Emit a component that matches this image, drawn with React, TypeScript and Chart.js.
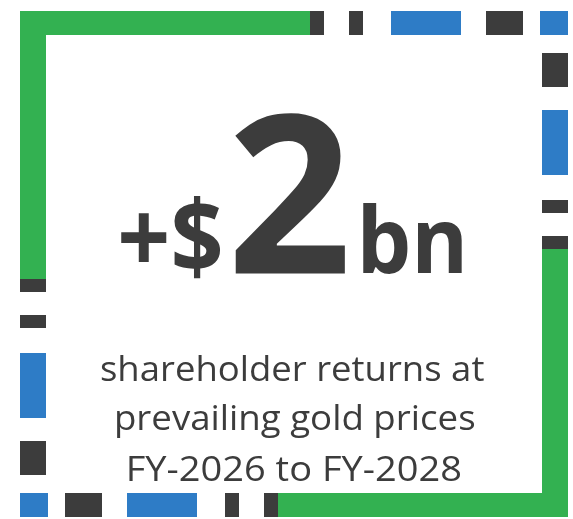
import React, { useEffect, useRef } from "react";
import { Chart, registerables } from "chart.js";

Chart.register(...registerables);

// ---- data: border segments per side (start, end along the side) ----
const topStarts = [20, 310, 349, 391, 486, 540];
const topEnds = [310, 324, 363, 461, 523, 568];
const topKinds = ["green", "dark", "dark", "blue", "dark", "blue"];

const rightStarts = [53, 110, 200, 236, 249];
const rightEnds = [87, 175, 213, 249, 517];
const rightKinds = ["dark", "blue", "dark", "dark", "green"];

const bottomStarts = [20, 65, 127, 225, 264, 278];
const bottomEnds = [48, 102, 197, 239, 278, 568];
const bottomKinds = ["blue", "dark", "blue", "dark", "dark", "green"];

const leftStarts = [11, 279, 315, 353, 441];
const leftEnds = [279, 292, 328, 418, 475];
const leftKinds = ["green", "dark", "dark", "blue", "dark"];

// ---- text ----
const headlinePieces = ["+$", "2", "bn"];
const subtitleLines = [
  "shareholder returns at",
  "prevailing gold prices",
  "FY-2026 to FY-2028",
];

// ---- styling / layout ----
const COLORS: Record<string, string> = {
  green: "#33B151",
  blue: "#2E7CC6",
  dark: "#3C3C3C",
};
const TEXT_COLOR = "#3C3C3C";
const W = 573;
const H = 519;
const TOP_BAND = { c: 23, w: 24 };
const BOTTOM_BAND = { c: 505, w: 24 };
const LEFT_BAND = { c: 33, w: 26 };
const RIGHT_BAND = { c: 555, w: 26 };
const FAMILY = '"Open Sans", "Noto Sans", sans-serif';

// ink boxes for headline pieces: [left, right, top, baseline]
const headlineBoxes = [
  [121, 220, 195, 273],
  [235, 345, 112, 273],
  [363, 462, 202, 273],
];
// subtitle: [left, right, baseline]
const subtitleBoxes = [
  [101, 484, 381],
  [116, 474, 430],
  [129, 461, 481],
];
const SUB_CAP = 25;

function seg(x1: number, y1: number, x2: number, y2: number, kind: string, width: number) {
  return {
    data: [
      { x: x1, y: y1 },
      { x: x2, y: y2 },
    ],
    showLine: true,
    borderColor: COLORS[kind],
    backgroundColor: COLORS[kind],
    borderWidth: width,
    borderCapStyle: "butt" as const,
    pointRadius: 0,
    pointHoverRadius: 0,
    clip: false as const,
  };
}

function buildDatasets() {
  const ds: any[] = [];
  leftStarts.forEach((s, i) => ds.push(seg(LEFT_BAND.c, s, LEFT_BAND.c, leftEnds[i], leftKinds[i], LEFT_BAND.w)));
  rightStarts.forEach((s, i) => ds.push(seg(RIGHT_BAND.c, s, RIGHT_BAND.c, rightEnds[i], rightKinds[i], RIGHT_BAND.w)));
  topStarts.forEach((s, i) => ds.push(seg(s, TOP_BAND.c, topEnds[i], TOP_BAND.c, topKinds[i], TOP_BAND.w)));
  bottomStarts.forEach((s, i) => ds.push(seg(s, BOTTOM_BAND.c, bottomEnds[i], BOTTOM_BAND.c, bottomKinds[i], BOTTOM_BAND.w)));
  return ds;
}

function drawFitted(
  ctx: CanvasRenderingContext2D,
  text: string,
  weight: string,
  left: number,
  right: number,
  baseline: number,
  size: number
) {
  ctx.font = `${weight} ${size}px ${FAMILY}`;
  const m = ctx.measureText(text);
  const inkW = m.actualBoundingBoxLeft + m.actualBoundingBoxRight;
  const sx = (right - left) / inkW;
  ctx.save();
  ctx.translate(left, baseline);
  ctx.scale(sx, 1);
  ctx.textAlign = "left";
  ctx.textBaseline = "alphabetic";
  ctx.fillText(text, m.actualBoundingBoxLeft, 0);
  ctx.restore();
}

function sizeForAscent(ctx: CanvasRenderingContext2D, text: string, weight: string, ascent: number) {
  ctx.font = `${weight} 100px ${FAMILY}`;
  const m = ctx.measureText(text);
  return (100 * ascent) / m.actualBoundingBoxAscent;
}

const textPlugin = {
  id: "infoText",
  afterDraw(chart: any) {
    const ctx: CanvasRenderingContext2D = chart.ctx;
    ctx.save();
    ctx.fillStyle = TEXT_COLOR;
    headlinePieces.forEach((t, i) => {
      const [l, r, top, base] = headlineBoxes[i];
      const size = sizeForAscent(ctx, t, "bold", base - top);
      drawFitted(ctx, t, "bold", l, r, base, size);
    });
    const subSize = sizeForAscent(ctx, "FY", "normal", SUB_CAP);
    subtitleLines.forEach((t, i) => {
      const [l, r, base] = subtitleBoxes[i];
      drawFitted(ctx, t, "normal", l, r, base, subSize);
    });
    ctx.restore();
  },
};

export default function App() {
  const ref = useRef<HTMLCanvasElement | null>(null);
  useEffect(() => {
    if (!ref.current) return;
    const chart = new Chart(ref.current, {
      type: "scatter",
      data: { datasets: buildDatasets() },
      options: {
        responsive: false,
        maintainAspectRatio: false,
        animation: false,
        devicePixelRatio: 1,
        layout: { padding: 0 },
        events: [],
        plugins: {
          legend: { display: false },
          tooltip: { enabled: false },
          title: { display: false },
        },
        scales: {
          x: { type: "linear", min: 0, max: W, display: false },
          y: { type: "linear", min: 0, max: H, reverse: true, display: false },
        },
      },
      plugins: [textPlugin],
    });
    return () => chart.destroy();
  }, []);
  return (
    <div style={{ position: "absolute", left: 0, top: 0, width: W, height: H, background: "#fff" }}>
      <canvas ref={ref} width={W} height={H} style={{ display: "block" }} />
    </div>
  );
}
